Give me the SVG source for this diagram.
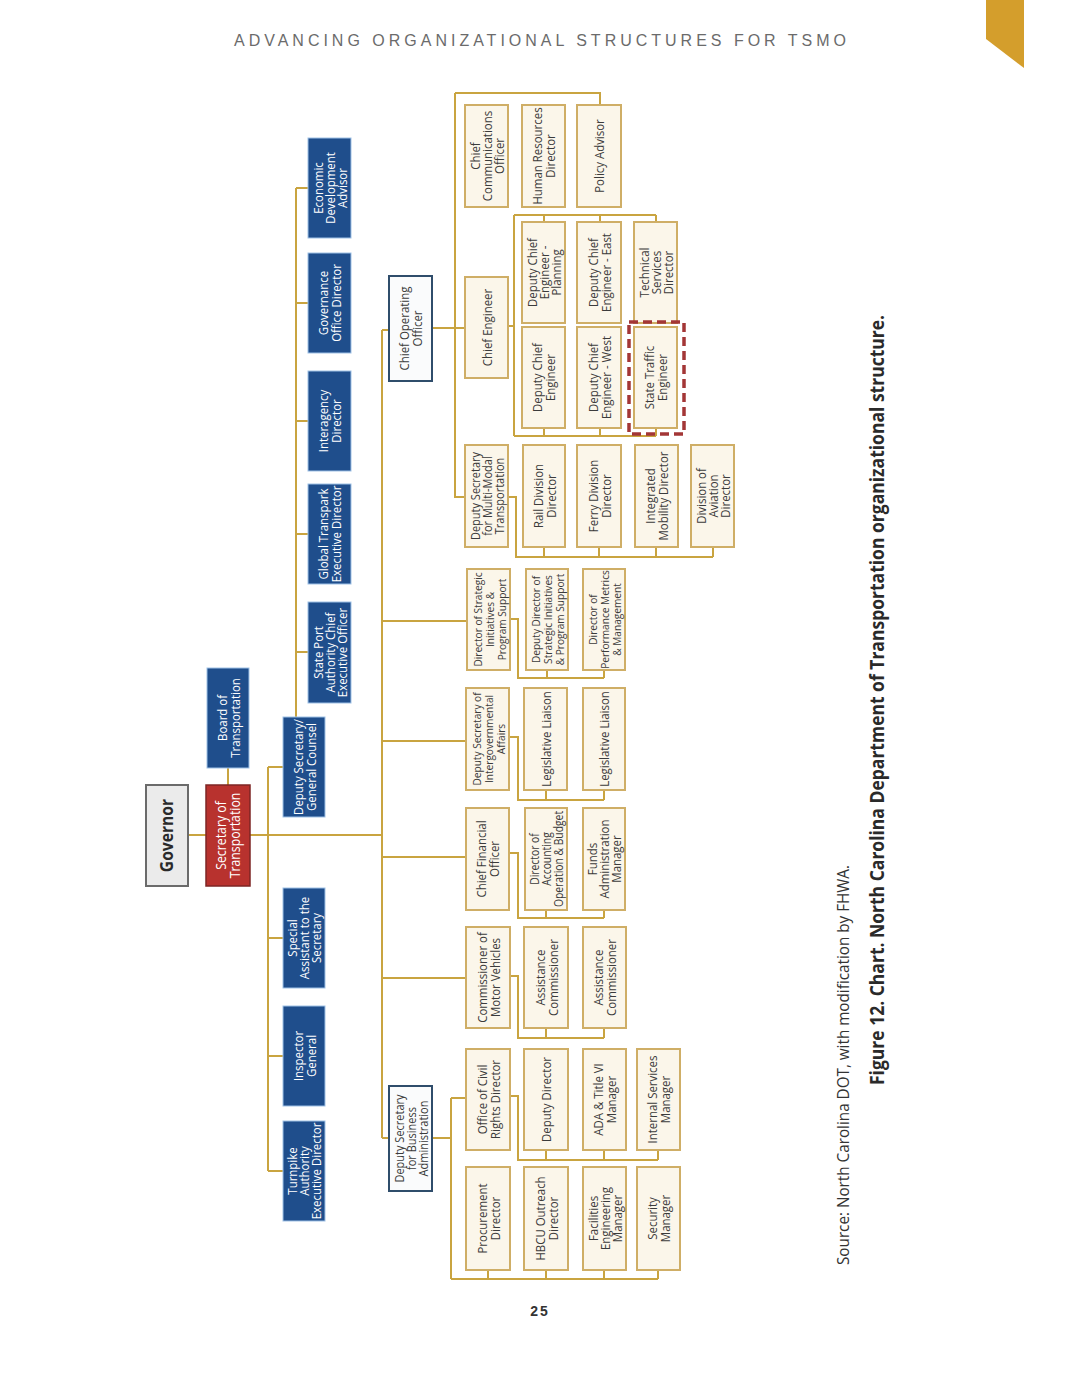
<svg xmlns="http://www.w3.org/2000/svg" width="1080" height="1397" viewBox="0 0 1080 1397">
<style>
.c{fill:none;stroke:#c9a440;stroke-width:2}
.bx{fill:#fbf6ea;stroke:#cfae66;stroke-width:2}
.bl{fill:#1f4e8c;stroke:#9fc1e6;stroke-width:1}
.wt{fill:#fafbfc;stroke:#2f4d6b;stroke-width:2}
.gv{fill:#ebebeb;stroke:#6b6b6b;stroke-width:2}
.rd{fill:#b8322e;stroke:#7e2624;stroke-width:1.5}
.t{font-family:"Open Sans","Liberation Sans",sans-serif;font-size:13px;fill:#3b3b3b;text-anchor:middle;dominant-baseline:central}
.s{font-size:11.5px}
.w{fill:#ffffff}
.dash{fill:none;stroke:#a33636;stroke-width:3.5;stroke-dasharray:9 5}
</style>
<rect width="1080" height="1397" fill="#ffffff"/>
<polygon points="986,0 1024,0 1024,68 986,39" fill="#d49e2c"/>
<text x="234" y="46" font-family="Liberation Sans, sans-serif" font-size="16" fill="#6b6b6b" textLength="612" lengthAdjust="spacing">ADVANCING ORGANIZATIONAL STRUCTURES FOR TSMO</text>

<g id="connectors">
<path class="c" d="M188 835H206 M228 785V768 M250 835H382"/>
<path class="c" d="M268 767V1171 M268 767H283 M268 938H283 M268 1056H283 M268 1171H283"/>
<path class="c" d="M296 717V188 M296 188H308 M296 303H308 M296 421H308 M296 534H308 M296 652H308"/>
<path class="c" d="M382 330V1138 M382 330H389 M382 1138H389 M382 621H467 M382 741H466 M382 857H466 M382 978H466"/>
<path class="c" d="M433 328H465 M455 93V497H465 M455 93H600V105"/>
<path class="c" d="M508 326H514 M514 215V436 M514 215H656 M544 215V222 M600 215V222 M656 215V222 M514 436H656 M544 436V428 M600 436V428 M656 436V428"/>
<path class="c" d="M508 497H516V557H713 M544 547V557 M599 547V557 M656 547V557 M713 547V557"/>
<path class="c" d="M510 619H518V678H604 M547 670V678 M604 670V678"/>
<path class="c" d="M509 737H518V800H604 M546 790V800 M604 790V800"/>
<path class="c" d="M509 853H518V918H604 M546 910V918 M604 910V918"/>
<path class="c" d="M510 976H518V1038H604 M546 1028V1038 M604 1028V1038"/>
<path class="c" d="M433 1138H451 M451 1098V1279 M451 1098H466 M451 1279H658 M488 1270V1279 M546 1270V1279 M604 1270V1279 M658 1270V1279"/>
<path class="c" d="M510 1096H518V1160H658 M546 1150V1160 M604 1150V1160 M658 1150V1160"/>
</g>

<g id="n-governor"><rect class="gv" x="146" y="785" width="42" height="101"/><text class="t" style="font-weight:bold;font-size:17px;fill:#2a2a2a" transform="translate(167,835.5) rotate(-90) scale(0.92,1)"><tspan x="0" y="0">Governor</tspan></text></g>
<g id="n-secretary"><rect class="rd" x="206" y="785" width="44" height="101"/><text class="t w" style="font-size:14px" transform="translate(228,835.5) rotate(-90) scale(0.88,1)"><tspan x="0" y="-7">Secretary of</tspan><tspan x="0" y="7">Transportation</tspan></text></g>
<g id="n-board"><rect class="bl" x="207" y="668" width="42" height="100"/><text class="t w" transform="translate(228,718) rotate(-90) scale(0.88,1)"><tspan x="0" y="-6.5">Board of</tspan><tspan x="0" y="6.5">Transportation</tspan></text></g>
<g id="n-depsec-gc"><rect class="bl" x="283" y="717" width="42" height="100"/><text class="t w" transform="translate(304,767) rotate(-90) scale(0.88,1)"><tspan x="0" y="-6.5">Deputy Secretary/</tspan><tspan x="0" y="6.5">General Counsel</tspan></text></g>
<g id="n-special-asst"><rect class="bl" x="283" y="888" width="42" height="100"/><text class="t w" transform="translate(304,938) rotate(-90) scale(0.88,1)"><tspan x="0" y="-12">Special</tspan><tspan x="0" y="0">Assistant to the</tspan><tspan x="0" y="12">Secretary</tspan></text></g>
<g id="n-inspector"><rect class="bl" x="283" y="1006" width="42" height="100"/><text class="t w" transform="translate(304,1056) rotate(-90) scale(0.88,1)"><tspan x="0" y="-6.5">Inspector</tspan><tspan x="0" y="6.5">General</tspan></text></g>
<g id="n-turnpike"><rect class="bl" x="283" y="1121" width="42" height="100"/><text class="t w" transform="translate(304,1171) rotate(-90) scale(0.88,1)"><tspan x="0" y="-12">Turnpike</tspan><tspan x="0" y="0">Authority</tspan><tspan x="0" y="12">Executive Director</tspan></text></g>
<g id="n-econdev"><rect class="bl" x="308" y="138" width="43" height="100"/><text class="t w" transform="translate(329.5,188) rotate(-90) scale(0.88,1)"><tspan x="0" y="-12">Economic</tspan><tspan x="0" y="0">Development</tspan><tspan x="0" y="12">Advisor</tspan></text></g>
<g id="n-governance"><rect class="bl" x="308" y="253" width="43" height="100"/><text class="t w" transform="translate(329.5,303) rotate(-90) scale(0.88,1)"><tspan x="0" y="-6.5">Governance</tspan><tspan x="0" y="6.5">Office Director</tspan></text></g>
<g id="n-interagency"><rect class="bl" x="308" y="371" width="43" height="100"/><text class="t w" transform="translate(329.5,421) rotate(-90) scale(0.88,1)"><tspan x="0" y="-6.5">Interagency</tspan><tspan x="0" y="6.5">Director</tspan></text></g>
<g id="n-transpark"><rect class="bl" x="308" y="484" width="43" height="100"/><text class="t w" transform="translate(329.5,534) rotate(-90) scale(0.88,1)"><tspan x="0" y="-6.5">Global Transpark</tspan><tspan x="0" y="6.5">Executive Director</tspan></text></g>
<g id="n-stateport"><rect class="bl" x="308" y="602" width="43" height="101"/><text class="t w" transform="translate(329.5,652.5) rotate(-90) scale(0.88,1)"><tspan x="0" y="-12">State Port</tspan><tspan x="0" y="0">Authority Chief</tspan><tspan x="0" y="12">Executive Officer</tspan></text></g>
<g id="n-coo"><rect class="wt" x="389" y="276" width="43" height="105"/><text class="t" transform="translate(410.5,328.5) rotate(-90) scale(0.88,1)"><tspan x="0" y="-6.5">Chief Operating</tspan><tspan x="0" y="6.5">Officer</tspan></text></g>
<g id="n-dsba"><rect class="wt" x="389" y="1086" width="43" height="105"/><text class="t s" style="font-size:12.5px" transform="translate(410.5,1138.5) rotate(-90) scale(0.88,1)"><tspan x="0" y="-12">Deputy Secretary</tspan><tspan x="0" y="0">for Business</tspan><tspan x="0" y="12">Administration</tspan></text></g>
<g id="n-chiefcomms"><rect class="bx" x="465" y="105" width="43" height="102"/><text class="t" transform="translate(486.5,156) rotate(-90) scale(0.88,1)"><tspan x="0" y="-12">Chief</tspan><tspan x="0" y="0">Communications</tspan><tspan x="0" y="12">Officer</tspan></text></g>
<g id="n-hr"><rect class="bx" x="522" y="105" width="43" height="102"/><text class="t" transform="translate(543.5,156) rotate(-90) scale(0.88,1)"><tspan x="0" y="-6.5">Human Resources</tspan><tspan x="0" y="6.5">Director</tspan></text></g>
<g id="n-policy"><rect class="bx" x="577" y="105" width="44" height="102"/><text class="t" transform="translate(599,156) rotate(-90) scale(0.88,1)"><tspan x="0" y="0">Policy Advisor</tspan></text></g>
<g id="n-chiefeng"><rect class="bx" x="465" y="277" width="43" height="101"/><text class="t" transform="translate(486.5,327.5) rotate(-90) scale(0.88,1)"><tspan x="0" y="0">Chief Engineer</tspan></text></g>
<g id="n-dce-planning"><rect class="bx" x="522" y="222" width="43" height="101"/><text class="t" transform="translate(543.5,272.5) rotate(-90) scale(0.88,1)"><tspan x="0" y="-12">Deputy Chief</tspan><tspan x="0" y="0">Engineer -</tspan><tspan x="0" y="12">Planning</tspan></text></g>
<g id="n-dce-east"><rect class="bx" x="577" y="222" width="44" height="101"/><text class="t" transform="translate(599,272.5) rotate(-90) scale(0.88,1)"><tspan x="0" y="-6.5">Deputy Chief</tspan><tspan x="0" y="6.5">Engineer - East</tspan></text></g>
<g id="n-techserv"><rect class="bx" x="634" y="222" width="43" height="101"/><text class="t" transform="translate(655.5,272.5) rotate(-90) scale(0.88,1)"><tspan x="0" y="-12">Technical</tspan><tspan x="0" y="0">Services</tspan><tspan x="0" y="12">Director</tspan></text></g>
<g id="n-dce"><rect class="bx" x="522" y="327" width="43" height="101"/><text class="t" transform="translate(543.5,377.5) rotate(-90) scale(0.88,1)"><tspan x="0" y="-6.5">Deputy Chief</tspan><tspan x="0" y="6.5">Engineer</tspan></text></g>
<g id="n-dce-west"><rect class="bx" x="577" y="327" width="44" height="101"/><text class="t" transform="translate(599,377.5) rotate(-90) scale(0.88,1)"><tspan x="0" y="-6.5">Deputy Chief</tspan><tspan x="0" y="6.5">Engineer - West</tspan></text></g>
<g id="n-ste"><rect class="bx" x="634" y="327" width="43" height="101"/><text class="t" transform="translate(655.5,377.5) rotate(-90) scale(0.88,1)"><tspan x="0" y="-6.5">State Traffic</tspan><tspan x="0" y="6.5">Engineer</tspan></text><rect class="dash" x="629" y="322" width="55" height="112"/></g>
<g id="n-multimodal"><rect class="bx" x="465" y="445" width="43" height="102"/><text class="t" style="font-size:12.5px" transform="translate(486.5,496) rotate(-90) scale(0.88,1)"><tspan x="0" y="-12">Deputy Secretary</tspan><tspan x="0" y="0">for Multi-Modal</tspan><tspan x="0" y="12">Transportation</tspan></text></g>
<g id="n-rail"><rect class="bx" x="523" y="445" width="42" height="102"/><text class="t" transform="translate(544,496) rotate(-90) scale(0.88,1)"><tspan x="0" y="-6.5">Rail Division</tspan><tspan x="0" y="6.5">Director</tspan></text></g>
<g id="n-ferry"><rect class="bx" x="577" y="445" width="44" height="102"/><text class="t" transform="translate(599,496) rotate(-90) scale(0.88,1)"><tspan x="0" y="-6.5">Ferry Division</tspan><tspan x="0" y="6.5">Director</tspan></text></g>
<g id="n-integrated"><rect class="bx" x="635" y="445" width="43" height="102"/><text class="t" transform="translate(656.5,496) rotate(-90) scale(0.88,1)"><tspan x="0" y="-6.5">Integrated</tspan><tspan x="0" y="6.5">Mobility Director</tspan></text></g>
<g id="n-aviation"><rect class="bx" x="691" y="445" width="43" height="102"/><text class="t" transform="translate(712.5,496) rotate(-90) scale(0.88,1)"><tspan x="0" y="-12">Division of</tspan><tspan x="0" y="0">Aviation</tspan><tspan x="0" y="12">Director</tspan></text></g>
<g id="n-dirstrat"><rect class="bx" x="467" y="569" width="43" height="101"/><text class="t s" transform="translate(488.5,619.5) rotate(-90) scale(0.88,1)"><tspan x="0" y="-12">Director of Strategic</tspan><tspan x="0" y="0">Initiatives &amp;</tspan><tspan x="0" y="12">Program Support</tspan></text></g>
<g id="n-depdirstrat"><rect class="bx" x="526" y="569" width="42" height="101"/><text class="t s" transform="translate(547,619.5) rotate(-90) scale(0.88,1)"><tspan x="0" y="-12">Deputy Director of</tspan><tspan x="0" y="0">Strategic Initiatives</tspan><tspan x="0" y="12">&amp; Program Support</tspan></text></g>
<g id="n-perf"><rect class="bx" x="583" y="569" width="42" height="101"/><text class="t s" transform="translate(604,619.5) rotate(-90) scale(0.88,1)"><tspan x="0" y="-12">Director of</tspan><tspan x="0" y="0">Performance Metrics</tspan><tspan x="0" y="12">&amp; Management</tspan></text></g>
<g id="n-intergov"><rect class="bx" x="466" y="688" width="43" height="102"/><text class="t s" transform="translate(487.5,739) rotate(-90) scale(0.88,1)"><tspan x="0" y="-12">Deputy Secretary of</tspan><tspan x="0" y="0">Intergovernmental</tspan><tspan x="0" y="12">Affairs</tspan></text></g>
<g id="n-liaison1"><rect class="bx" x="524" y="688" width="43" height="102"/><text class="t" transform="translate(545.5,739) rotate(-90) scale(0.88,1)"><tspan x="0" y="0">Legislative Liaison</tspan></text></g>
<g id="n-liaison2"><rect class="bx" x="583" y="688" width="42" height="102"/><text class="t" transform="translate(604,739) rotate(-90) scale(0.88,1)"><tspan x="0" y="0">Legislative Liaison</tspan></text></g>
<g id="n-cfo"><rect class="bx" x="466" y="808" width="43" height="102"/><text class="t" transform="translate(487.5,859) rotate(-90) scale(0.88,1)"><tspan x="0" y="-6.5">Chief Financial</tspan><tspan x="0" y="6.5">Officer</tspan></text></g>
<g id="n-accounting"><rect class="bx" x="525" y="808" width="42" height="102"/><text class="t s" style="font-size:12px" transform="translate(546,859) rotate(-90) scale(0.86,1)"><tspan x="0" y="-12">Director of</tspan><tspan x="0" y="0">Accounting</tspan><tspan x="0" y="12">Operation &amp; Budget</tspan></text></g>
<g id="n-funds"><rect class="bx" x="583" y="808" width="42" height="102"/><text class="t" transform="translate(604,859) rotate(-90) scale(0.88,1)"><tspan x="0" y="-12">Funds</tspan><tspan x="0" y="0">Administration</tspan><tspan x="0" y="12">Manager</tspan></text></g>
<g id="n-cmv"><rect class="bx" x="466" y="927" width="44" height="101"/><text class="t" transform="translate(488,977.5) rotate(-90) scale(0.88,1)"><tspan x="0" y="-6.5">Commissioner of</tspan><tspan x="0" y="6.5">Motor Vehicles</tspan></text></g>
<g id="n-asstcomm1"><rect class="bx" x="524" y="927" width="44" height="101"/><text class="t" transform="translate(546,977.5) rotate(-90) scale(0.88,1)"><tspan x="0" y="-6.5">Assistance</tspan><tspan x="0" y="6.5">Commissioner</tspan></text></g>
<g id="n-asstcomm2"><rect class="bx" x="583" y="927" width="43" height="101"/><text class="t" transform="translate(604.5,977.5) rotate(-90) scale(0.88,1)"><tspan x="0" y="-6.5">Assistance</tspan><tspan x="0" y="6.5">Commissioner</tspan></text></g>
<g id="n-civilrights"><rect class="bx" x="466" y="1049" width="44" height="101"/><text class="t" transform="translate(488,1099.5) rotate(-90) scale(0.88,1)"><tspan x="0" y="-6.5">Office of Civil</tspan><tspan x="0" y="6.5">Rights Director</tspan></text></g>
<g id="n-depdir"><rect class="bx" x="524" y="1049" width="44" height="101"/><text class="t" transform="translate(546,1099.5) rotate(-90) scale(0.88,1)"><tspan x="0" y="0">Deputy Director</tspan></text></g>
<g id="n-ada"><rect class="bx" x="583" y="1049" width="43" height="101"/><text class="t" transform="translate(604.5,1099.5) rotate(-90) scale(0.88,1)"><tspan x="0" y="-6.5">ADA &amp; Title VI</tspan><tspan x="0" y="6.5">Manager</tspan></text></g>
<g id="n-internal"><rect class="bx" x="637" y="1049" width="43" height="101"/><text class="t" transform="translate(658.5,1099.5) rotate(-90) scale(0.88,1)"><tspan x="0" y="-6.5">Internal Services</tspan><tspan x="0" y="6.5">Manager</tspan></text></g>
<g id="n-procurement"><rect class="bx" x="466" y="1167" width="44" height="103"/><text class="t" transform="translate(488,1218.5) rotate(-90) scale(0.88,1)"><tspan x="0" y="-6.5">Procurement</tspan><tspan x="0" y="6.5">Director</tspan></text></g>
<g id="n-hbcu"><rect class="bx" x="524" y="1167" width="44" height="103"/><text class="t" transform="translate(546,1218.5) rotate(-90) scale(0.88,1)"><tspan x="0" y="-6.5">HBCU Outreach</tspan><tspan x="0" y="6.5">Director</tspan></text></g>
<g id="n-facilities"><rect class="bx" x="583" y="1167" width="43" height="103"/><text class="t" transform="translate(604.5,1218.5) rotate(-90) scale(0.88,1)"><tspan x="0" y="-12">Facilities</tspan><tspan x="0" y="0">Engineering</tspan><tspan x="0" y="12">Manager</tspan></text></g>
<g id="n-security"><rect class="bx" x="637" y="1167" width="43" height="103"/><text class="t" transform="translate(658.5,1218.5) rotate(-90) scale(0.88,1)"><tspan x="0" y="-6.5">Security</tspan><tspan x="0" y="6.5">Manager</tspan></text></g>

<text font-family="Open Sans, Liberation Sans, sans-serif" font-size="16" fill="#333333" text-anchor="middle" dominant-baseline="central" transform="translate(843,1065) rotate(-90)" textLength="400" lengthAdjust="spacingAndGlyphs">Source: North Carolina DOT, with modification by FHWA.</text>
<text font-family="Open Sans, Liberation Sans, sans-serif" font-size="19" font-weight="bold" fill="#2a2a2a" text-anchor="middle" dominant-baseline="central" transform="translate(877,700) rotate(-90)" textLength="770" lengthAdjust="spacingAndGlyphs">Figure 12. Chart. North Carolina Department of Transportation organizational structure.</text>
<text x="540" y="1316" font-family="Liberation Sans, sans-serif" font-size="14" font-weight="bold" fill="#333333" text-anchor="middle" letter-spacing="2">25</text>
</svg>
